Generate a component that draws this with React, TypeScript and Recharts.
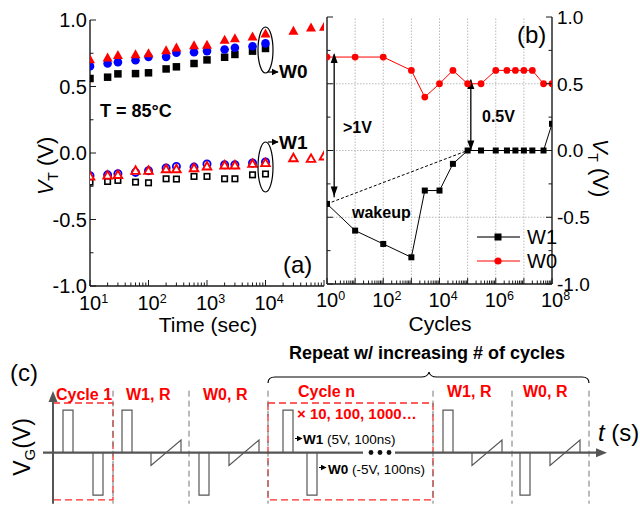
import React from 'react';
import {
  ScatterChart,
  Scatter,
  LineChart,
  Line,
  XAxis,
  YAxis,
  ReferenceLine,
  ReferenceDot,
  ReferenceArea,
} from 'recharts';

const FONT = '"Liberation Sans", Arial, Helvetica, sans-serif';
const AX = '#1a1a1a';
const RED = '#ff0000';
const BLUE = '#0000ff';
const WAVE = '#555555';
const BOX = '#ff2a2a';

// ---- (a) retention at 85 C ----
const retTime = [10, 20, 30, 60, 100, 200, 300, 600, 1000, 2000, 3000, 6000, 10000];
const retTimeRed = [10, 20, 30, 60, 100, 200, 300, 600, 1000, 2000, 3000, 6000, 10000, 30000, 60000, 100000];
const w0Square = [0.56, 0.57, 0.595, 0.597, 0.603, 0.632, 0.648, 0.673, 0.7, 0.72, 0.741, 0.766, 0.786];
const w0Circle = [0.653, 0.673, 0.683, 0.698, 0.723, 0.723, 0.754, 0.758, 0.766, 0.778, 0.791, 0.803, 0.824];
const w0Triangle = [0.703, 0.716, 0.735, 0.741, 0.748, 0.771, 0.791, 0.809, 0.813, 0.849, 0.861, 0.874, 0.897, 0.917, 0.942, 0.947];
const w1Square = [-0.219, -0.214, -0.206, -0.219, -0.224, -0.194, -0.196, -0.176, -0.176, -0.194, -0.194, -0.164, -0.158];
const w1Circle = [-0.171, -0.164, -0.156, -0.146, -0.133, -0.113, -0.101, -0.106, -0.082, -0.088, -0.088, -0.075, -0.068];
const w1Triangle = [-0.176, -0.169, -0.164, -0.133, -0.133, -0.121, -0.121, -0.113, -0.1, -0.093, -0.093, -0.081, -0.075, -0.038, -0.043, -0.025];
const timeDecades = [1, 2, 3, 4, 5];
const timeLabelExp = [1, 2, 3, 4];

// ---- (b) endurance ----
const cycles = [1, 10, 100, 1e3, 3e3, 1e4, 3e4, 1e5, 3e5, 1e6, 2.5e6, 5e6, 1e7, 2e7, 5e7, 1e8];
const cycW1 = [-0.4, -0.6, -0.7, -0.8, -0.3, -0.3, -0.1, 0, 0, 0, 0, 0, 0, 0, 0, 0.2];
const cycW0 = [0.7, 0.7, 0.7, 0.6, 0.4, 0.5, 0.6, 0.5, 0.5, 0.6, 0.6, 0.6, 0.6, 0.6, 0.5, 0.5];
const cycDecades = [0, 1, 2, 3, 4, 5, 6, 7, 8];
const cycLabelExp = [0, 2, 4, 6, 8];
const vtTicks = [-1, -0.75, -0.5, -0.25, 0, 0.25, 0.5, 0.75, 1];

// ---- (c) pulse scheme (time in arbitrary units, volts) ----
const w1PulseAt = [1.0, 6.9, 23.0, 39.0];
const w0PulseAt = [4.0, 14.6, 25.4, 46.7];
const readRampAt = [9.8, 17.6, 41.9, 49.7];
const phaseEdges = [6.0, 13.6, 21.5, 38.0, 45.9, 53.6];
const writeLevel = 5;
const rampLevel = 1.5;
const pulseWidth = 1.0;
const rampWidth = 3.0;

function logTicks(decades: number[]) {
  const out: number[] = [];
  decades.forEach((d, i) => {
    const base = Math.pow(10, d);
    out.push(base);
    if (i < decades.length - 1) for (let m = 2; m <= 9; m++) out.push(base * m);
  });
  return out;
}

const zip = (xs: number[], ys: number[]) => ys.map((y, i) => ({ x: xs[i], y }));

const xLogTick = (side: 'bottom' | 'top', showExp: number[], fs: number, off: number) => (p: any) => {
  const { x, y, payload } = p;
  const v = Number(payload.value);
  const lg = Math.log10(v);
  const e = Math.round(lg);
  const major = Math.abs(lg - e) < 1e-6;
  const len = major ? 6 : 3.5;
  const d = side === 'bottom' ? -1 : 1;
  return (
    <g>
      <line x1={x} x2={x} y1={y} y2={y + d * len} stroke={AX} strokeWidth={1} />
      {major && showExp.includes(e) ? (
        <text x={x - 0.556 * fs} y={y + off} fontFamily={FONT} fontSize={fs} fill="#000">
          10
          <tspan dy={-7} fontSize={12.5}>
            {e}
          </tspan>
        </text>
      ) : null}
    </g>
  );
};

const yLinTick = (side: 'left' | 'right', showLabel: boolean, fs: number) => (p: any) => {
  const { x, y, payload } = p;
  const v = Number(payload.value);
  const major = Math.abs(v * 2 - Math.round(v * 2)) < 1e-6;
  const len = major ? 6 : 3.5;
  const d = side === 'left' ? 1 : -1;
  return (
    <g>
      <line x1={x} x2={x + d * len} y1={y} y2={y} stroke={AX} strokeWidth={1} />
      {showLabel && major ? (
        <text
          x={side === 'left' ? x - 3 : x + 5}
          y={y + fs * 0.36}
          textAnchor={side === 'left' ? 'end' : 'start'}
          fontFamily={FONT}
          fontSize={fs}
          fill="#000"
        >
          {v.toFixed(1)}
        </text>
      ) : null}
    </g>
  );
};

const square = (s: number, fill: string, stroke: string, sw: number) => (p: any) => (
  <rect x={p.cx - s / 2} y={p.cy - s / 2} width={s} height={s} fill={fill} stroke={stroke} strokeWidth={sw} />
);
const circle = (r: number, fill: string, stroke: string, sw: number) => (p: any) => (
  <circle cx={p.cx} cy={p.cy} r={r} fill={fill} stroke={stroke} strokeWidth={sw} />
);
const triangle = (w: number, h: number, fill: string, stroke: string, sw: number) => (p: any) => (
  <path
    d={`M${p.cx},${p.cy - h * 0.58} L${p.cx + w / 2},${p.cy + h * 0.42} L${p.cx - w / 2},${p.cy + h * 0.42} Z`}
    fill={fill}
    stroke={stroke}
    strokeWidth={sw}
    strokeLinejoin="miter"
  />
);

const arrowHead = (dir: 'up' | 'down' | 'right', len: number, half: number, color: string) => (p: any) => {
  const { cx, cy } = p;
  let d = '';
  if (dir === 'up') d = `M${cx},${cy} L${cx - half},${cy + len} L${cx + half},${cy + len} Z`;
  if (dir === 'down') d = `M${cx},${cy} L${cx - half},${cy - len} L${cx + half},${cy - len} Z`;
  if (dir === 'right') d = `M${cx},${cy} L${cx - len},${cy - half} L${cx - len},${cy + half} Z`;
  return <path d={d} fill={color} stroke="none" />;
};

const dotSq = (p: any) => (
  <rect key={`s${p.index}`} x={p.cx - 3} y={p.cy - 3} width={6} height={6} fill="#000" />
);
const dotCi = (p: any) => <circle key={`c${p.index}`} cx={p.cx} cy={p.cy} r={3.4} fill={RED} />;

function buildWave() {
  const pts: { t: number; v: number | null }[] = [];
  const pulse = (t0: number, lvl: number) => {
    pts.push({ t: t0, v: 0 }, { t: t0, v: lvl }, { t: t0 + pulseWidth, v: lvl }, { t: t0 + pulseWidth, v: 0 });
    pts.push({ t: t0 + pulseWidth, v: null });
  };
  const ramp = (t0: number) => {
    pts.push({ t: t0, v: 0 }, { t: t0, v: -rampLevel }, { t: t0 + rampWidth, v: rampLevel }, { t: t0 + rampWidth, v: 0 });
    pts.push({ t: t0 + rampWidth, v: null });
  };
  w1PulseAt.forEach((t) => pulse(t, writeLevel));
  w0PulseAt.forEach((t) => pulse(t, -writeLevel));
  readRampAt.forEach((t) => ramp(t));
  return pts;
}

const baseLeft = [{ t: -1, v: 0 }, { t: 31.0, v: 0 }];
const baseRight = [{ t: 34.2, v: 0 }, { t: 54.6, v: 0 }];

export default function App() {
  const aTicks = logTicks(timeDecades);
  const bTicks = logTicks(cycDecades);
  const cycData = cycles.map((c, i) => ({ c, w1: cycW1[i], w0: cycW0[i] }));
  const wave = buildWave();
  const axisStyle = { stroke: AX, strokeWidth: 1.4 };

  return (
    <div
      style={{
        position: 'absolute',
        left: 0,
        top: 0,
        width: 640,
        height: 506,
        background: '#fff',
        overflow: 'hidden',
        fontFamily: FONT,
      }}
    >
      {/* (a) */}
      <div style={{ position: 'absolute', left: 0, top: 0 }}>
        <ScatterChart width={330} height={340} margin={{ top: 20, right: 6, bottom: 0, left: 0 }}>
          <XAxis
            xAxisId="b"
            dataKey="x"
            type="number"
            scale="log"
            domain={[10, 100000]}
            allowDataOverflow
            ticks={aTicks}
            interval={0}
            height={54}
            tickSize={0}
            tickMargin={0}
            tickLine={false}
            axisLine={axisStyle}
            tick={xLogTick('bottom', timeLabelExp, 20, 24)}
          />
          <XAxis
            xAxisId="t"
            orientation="top"
            type="number"
            scale="log"
            domain={[10, 100000]}
            allowDataOverflow
            ticks={aTicks}
            interval={0}
            height={0}
            tickSize={0}
            tickMargin={0}
            tickLine={false}
            axisLine={axisStyle}
            tick={xLogTick('top', [], 20, 0)}
          />
          <YAxis
            yAxisId="l"
            dataKey="y"
            type="number"
            domain={[-1, 1]}
            allowDataOverflow
            ticks={vtTicks}
            interval={0}
            width={90}
            tickSize={0}
            tickMargin={0}
            tickLine={false}
            axisLine={axisStyle}
            tick={yLinTick('left', true, 20)}
          />
          <YAxis
            yAxisId="r"
            orientation="right"
            type="number"
            domain={[-1, 1]}
            allowDataOverflow
            ticks={vtTicks}
            interval={0}
            width={0}
            tickSize={0}
            tickMargin={0}
            tickLine={false}
            axisLine={axisStyle}
            tick={yLinTick('right', false, 18)}
          />
          <Scatter xAxisId="b" yAxisId="l" data={zip(retTime, w0Square)} shape={square(7.5, '#000', '#000', 0)} isAnimationActive={false} />
          <Scatter xAxisId="b" yAxisId="l" data={zip(retTime, w0Circle)} shape={circle(4.3, BLUE, BLUE, 0)} isAnimationActive={false} />
          <Scatter xAxisId="b" yAxisId="l" data={zip(retTimeRed, w0Triangle)} shape={triangle(10, 9, RED, RED, 0)} isAnimationActive={false} />
          <Scatter xAxisId="b" yAxisId="l" data={zip(retTime, w1Square)} shape={square(5.5, '#fff', '#000', 1.6)} isAnimationActive={false} />
          <Scatter xAxisId="b" yAxisId="l" data={zip(retTime, w1Circle)} shape={circle(3.6, '#fff', BLUE, 1.8)} isAnimationActive={false} />
          <Scatter xAxisId="b" yAxisId="l" data={zip(retTimeRed, w1Triangle)} shape={triangle(8.5, 7.5, '#fff', RED, 1.9)} isAnimationActive={false} />
        </ScatterChart>
      </div>

      {/* (b) */}
      <div style={{ position: 'absolute', left: 300, top: 0 }}>
        <LineChart width={340} height={340} data={cycData} margin={{ top: 17, right: 0, bottom: 0, left: 0 }}>
          <XAxis
            xAxisId="b"
            dataKey="c"
            type="number"
            scale="log"
            domain={[1, 1e8]}
            allowDataOverflow
            ticks={bTicks}
            interval={0}
            height={56}
            tickSize={0}
            tickMargin={0}
            tickLine={false}
            axisLine={axisStyle}
            tick={xLogTick('bottom', cycLabelExp, 20, 23)}
          />
          <XAxis
            xAxisId="t"
            orientation="top"
            dataKey="c"
            type="number"
            scale="log"
            domain={[1, 1e8]}
            allowDataOverflow
            ticks={bTicks}
            interval={0}
            height={0}
            tickSize={0}
            tickMargin={0}
            tickLine={false}
            axisLine={axisStyle}
            tick={xLogTick('top', [], 20, 0)}
          />
          <YAxis
            yAxisId="l"
            type="number"
            domain={[-1, 1]}
            allowDataOverflow
            ticks={vtTicks}
            interval={0}
            width={27}
            tickSize={0}
            tickMargin={0}
            tickLine={false}
            axisLine={axisStyle}
            tick={yLinTick('left', false, 18)}
          />
          <YAxis
            yAxisId="r"
            orientation="right"
            type="number"
            domain={[-1, 1]}
            allowDataOverflow
            ticks={vtTicks}
            interval={0}
            width={88}
            tickSize={0}
            tickMargin={0}
            tickLine={false}
            axisLine={axisStyle}
            tick={yLinTick('right', true, 19)}
          />
          {cycDecades.slice(1, -1).map((d) => (
            <ReferenceLine key={`gx${d}`} xAxisId="b" yAxisId="l" x={Math.pow(10, d)} stroke="#aaa" strokeWidth={0.8} strokeDasharray="1.5 1.5" />
          ))}
          {[-0.5, 0, 0.5].map((v) => (
            <ReferenceLine key={`gy${v}`} xAxisId="b" yAxisId="l" y={v} stroke="#aaa" strokeWidth={0.8} strokeDasharray="1.5 1.5" />
          ))}
          <ReferenceLine
            xAxisId="b"
            yAxisId="l"
            segment={[{ x: 1, y: -0.4 }, { x: 1e5, y: 0 }]}
            stroke="#000"
            strokeWidth={1}
            strokeDasharray="3 2"
          />
          <ReferenceLine xAxisId="b" yAxisId="l" segment={[{ x: 1.8, y: 0.72 }, { x: 1.8, y: -0.35 }]} stroke="#000" strokeWidth={1.3} />
          <ReferenceLine xAxisId="b" yAxisId="l" segment={[{ x: 1.3e5, y: 0.53 }, { x: 1.3e5, y: 0.0 }]} stroke="#000" strokeWidth={1.3} />
          <ReferenceDot xAxisId="b" yAxisId="l" x={1.8} y={0.73} r={1} shape={arrowHead('up', 10, 3.5, '#000')} />
          <ReferenceDot xAxisId="b" yAxisId="l" x={1.8} y={-0.345} r={1} shape={arrowHead('down', 10, 3.5, '#000')} />
          <ReferenceDot xAxisId="b" yAxisId="l" x={1.3e5} y={0.535} r={1} shape={arrowHead('up', 10, 3.5, '#000')} />
          <ReferenceDot xAxisId="b" yAxisId="l" x={1.3e5} y={0.0} r={1} shape={arrowHead('down', 10, 3.5, '#000')} />
          <Line xAxisId="b" yAxisId="l" dataKey="w1" stroke="#000" strokeWidth={1} dot={dotSq} isAnimationActive={false} />
          <Line xAxisId="b" yAxisId="l" dataKey="w0" stroke={RED} strokeWidth={1} dot={dotCi} isAnimationActive={false} />
        </LineChart>
      </div>

      {/* (c) */}
      <div style={{ position: 'absolute', left: 0, top: 330 }}>
        <LineChart width={640} height={176} margin={{ top: 54.7, right: 32, bottom: 2.3, left: 43 }}>
          <XAxis dataKey="t" type="number" domain={[-1, 55.5]} allowDataOverflow hide />
          <YAxis type="number" domain={[-6, 8]} allowDataOverflow hide />
          {phaseEdges.map((t) => (
            <ReferenceLine
              key={`pe${t}`}
              segment={[{ x: t, y: 7.3 }, { x: t, y: -6 }]}
              stroke="#777"
              strokeWidth={1}
              strokeDasharray="6 4"
            />
          ))}
          <ReferenceLine segment={[{ x: 0, y: -6 }, { x: 0, y: 6.4 }]} stroke={WAVE} strokeWidth={2} />
          <ReferenceDot x={0} y={7.26} r={1} shape={arrowHead('up', 11, 4.5, WAVE)} />
          <ReferenceDot x={55.4} y={0} r={1} shape={arrowHead('right', 11, 4.5, WAVE)} />
          <ReferenceArea x1={0} x2={6.0} y1={-5.56} y2={5.85} fill="none" fillOpacity={0} stroke={BOX} strokeWidth={1.3} strokeDasharray="7 4" />
          <ReferenceArea x1={21.5} x2={38.0} y1={-5.56} y2={5.85} fill="none" fillOpacity={0} stroke={BOX} strokeWidth={1.3} strokeDasharray="7 4" />
          <Line data={baseLeft} dataKey="v" stroke={WAVE} strokeWidth={2.2} dot={false} isAnimationActive={false} />
          <Line data={baseRight} dataKey="v" stroke={WAVE} strokeWidth={2.2} dot={false} isAnimationActive={false} />
          <Line data={wave} dataKey="v" stroke={WAVE} strokeWidth={1.2} dot={false} connectNulls={false} isAnimationActive={false} />
        </LineChart>
      </div>

      {/* annotations */}
      <svg width={640} height={506} style={{ position: 'absolute', left: 0, top: 0, pointerEvents: 'none' }} fontFamily={FONT}>
        <defs>
          <marker id="ah" viewBox="0 0 10 10" refX="9" refY="5" markerWidth="6" markerHeight="6" orient="auto">
            <path d="M0,0 L10,5 L0,10 Z" fill="#000" />
          </marker>
        </defs>
        {/* (a) */}
        <g transform="translate(53,166) rotate(-90)">
          <text textAnchor="middle" fontSize={22} fill="#000">
            <tspan fontStyle="italic">V</tspan>
            <tspan fontSize={14} dy={5}>T</tspan>
            <tspan dy={-5}> (V)</tspan>
          </text>
        </g>
        <text x={208} y={332} textAnchor="middle" fontSize={21}>Time (sec)</text>
        <text x={100} y={117} fontSize={18} fontWeight="bold">T = 85°C</text>
        <ellipse cx={265.5} cy={50} rx={7.5} ry={23} fill="none" stroke="#000" strokeWidth={1.2} />
        <line x1={268} y1={72} x2={278} y2={72} stroke="#000" strokeWidth={1.2} markerEnd="url(#ah)" />
        <text x={279} y={78} fontSize={19} fontWeight="bold">W0</text>
        <ellipse cx={265.5} cy={167} rx={7.5} ry={25} fill="none" stroke="#000" strokeWidth={1.2} />
        <line x1={268} y1={142} x2={278} y2={142} stroke="#000" strokeWidth={1.2} markerEnd="url(#ah)" />
        <text x={279} y={149} fontSize={19} fontWeight="bold">W1</text>
        <text x={283} y={273} fontSize={24}>(a)</text>

        {/* (b) */}
        <text x={517} y={43} fontSize={24}>(b)</text>
        <text x={343} y={133} fontSize={16} fontWeight="bold">&gt;1V</text>
        <text x={482} y={122} fontSize={16} fontWeight="bold">0.5V</text>
        <text x={352} y={218} fontSize={16} fontWeight="bold">wakeup</text>
        <line x1={477} y1={237} x2={520} y2={237} stroke="#444" strokeWidth={1.6} />
        <rect x={494.5} y={233.5} width={7} height={7} fill="#000" />
        <text x={527} y={244} fontSize={20}>W1</text>
        <line x1={477} y1={261} x2={520} y2={261} stroke={RED} strokeWidth={1} />
        <circle cx={498} cy={261} r={3.6} fill={RED} />
        <text x={527} y={268} fontSize={20}>W0</text>
        <g transform="translate(593,168) rotate(90)">
          <text textAnchor="middle" fontSize={22} fill="#000">
            <tspan fontStyle="italic">V</tspan>
            <tspan fontSize={14} dy={5}>T</tspan>
            <tspan dy={-5}> (V)</tspan>
          </text>
        </g>
        <text x={440} y={331} textAnchor="middle" fontSize={21}>Cycles</text>

        {/* (c) */}
        <text x={10} y={381} fontSize={24}>(c)</text>
        <g transform="translate(30,447) rotate(-90)">
          <text textAnchor="middle" fontSize={23} fill="#000">
            V
            <tspan fontSize={15} dy={5}>G</tspan>
            <tspan dy={-5}>(V)</tspan>
          </text>
        </g>
        <text x={427} y={359} textAnchor="middle" fontSize={18} fontWeight="bold">Repeat w/ increasing # of cycles</text>
        <path
          d="M268,383 Q268,377 275,377 L421,377 Q428,377 429,372 Q430,377 437,377 L582,377 Q589,377 589,383"
          fill="none"
          stroke="#000"
          strokeWidth={1.2}
        />
        <g fill={RED} fontWeight="bold" fontSize={16}>
          <text x={56} y={400}>Cycle 1</text>
          <text x={126} y={400}>W1, R</text>
          <text x={203} y={400}>W0, R</text>
          <text x={298} y={397}>Cycle n</text>
          <text x={447} y={397}>W1, R</text>
          <text x={523} y={397}>W0, R</text>
          <text x={297} y={419} fontSize={15}>× 10, 100, 1000…</text>
        </g>
        <line x1={295} y1={438.5} x2={302} y2={438.5} stroke="#000" strokeWidth={1} markerEnd="url(#ah)" />
        <text x={303} y={444} fontSize={13.5}>
          <tspan fontWeight="bold">W1</tspan> (5V, 100ns)
        </text>
        <line x1={319} y1={467.5} x2={326} y2={467.5} stroke="#000" strokeWidth={1} markerEnd="url(#ah)" />
        <text x={328} y={474} fontSize={13.5}>
          <tspan fontWeight="bold">W0</tspan> (-5V, 100ns)
        </text>
        <circle cx={371} cy={452.5} r={2.4} fill="#111" />
        <circle cx={380} cy={452.5} r={2.4} fill="#111" />
        <circle cx={389} cy={452.5} r={2.4} fill="#111" />
        <text x={598} y={441} fontSize={24}>
          <tspan fontStyle="italic">t</tspan> (s)
        </text>
      </svg>
    </div>
  );
}
